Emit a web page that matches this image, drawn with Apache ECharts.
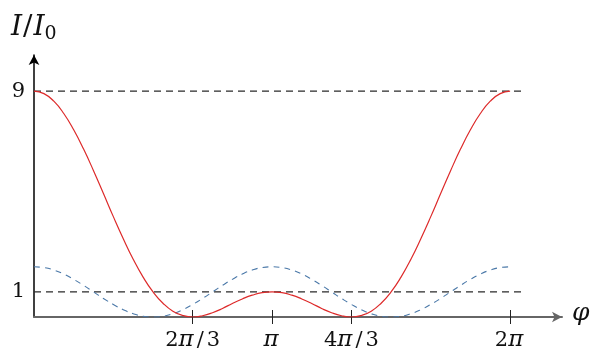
<!DOCTYPE html>
<html>
<head>
<meta charset="utf-8">
<script src="https://cdn.jsdelivr.net/npm/echarts@6/dist/echarts.min.js"></script>
<style>html,body{margin:0;padding:0;background:#fff;}#c{width:590px;height:356px;}</style>
</head>
<body>
<div id="c"></div>
<script>
// phase φ in units of π
const phi = [0, 0.0417, 0.0833, 0.125, 0.1667, 0.2083, 0.25, 0.2917, 0.3333, 0.375, 0.4167, 0.4583, 0.5,
  0.5417, 0.5833, 0.625, 0.6667, 0.7083, 0.75, 0.7917, 0.8333, 0.875, 0.9167, 0.9583, 1,
  1.0417, 1.0833, 1.125, 1.1667, 1.2083, 1.25, 1.2917, 1.3333, 1.375, 1.4167, 1.4583, 1.5,
  1.5417, 1.5833, 1.625, 1.6667, 1.7083, 1.75, 1.7917, 1.8333, 1.875, 1.9167, 1.9583, 2];
// three-slit intensity I/I0 (red)
const redI = [9, 8.90, 8.60, 8.11, 7.46, 6.69, 5.83, 4.92, 4.00, 3.12, 2.30, 1.59, 1.00,
  0.55, 0.23, 0.06, 0.00, 0.05, 0.17, 0.34, 0.54, 0.72, 0.87, 0.97, 1.00,
  0.97, 0.87, 0.72, 0.54, 0.34, 0.17, 0.05, 0.00, 0.06, 0.23, 0.55, 1.00,
  1.59, 2.30, 3.12, 4.00, 4.92, 5.83, 6.69, 7.46, 8.11, 8.60, 8.90, 9];
// comparison curve (blue dashed)
const blueI = [2.00, 1.97, 1.87, 1.71, 1.50, 1.26, 1.00, 0.74, 0.50, 0.29, 0.13, 0.03, 0.00,
  0.03, 0.13, 0.29, 0.50, 0.74, 1.00, 1.26, 1.50, 1.71, 1.87, 1.97, 2.00,
  1.97, 1.87, 1.71, 1.50, 1.26, 1.00, 0.74, 0.50, 0.29, 0.13, 0.03, 0.00,
  0.03, 0.13, 0.29, 0.50, 0.74, 1.00, 1.26, 1.50, 1.71, 1.87, 1.97, 2.00];
// reference levels
const refLevels = [9, 1];
const refStart = 0, refEnd = 2.046;
// ticks
const xTicks = [2/3, 1, 4/3, 2];
const xTickLabels = ['2π/3', 'π', '4π/3', '2π'];
const yTicks = [1, 9];

const chart = echarts.init(document.getElementById('c'), null, {renderer: 'canvas'});
const serif = 'DejaVu Serif';
const zip = (xs, ys) => xs.map((x, i) => [x, ys[i]]);

function fmtX(v) {
  let best = 0;
  for (let i = 1; i < xTicks.length; i++) if (Math.abs(xTicks[i] - v) < Math.abs(xTicks[best] - v)) best = i;
  const s = xTickLabels[best];
  return s.split('').map(ch => ch === 'π' ? '{p|π}' : (ch === '/' ? '{s|/}' : '{n|' + ch + '}')).join('');
}

const option = {
  animation: false,
  backgroundColor: '#fff',
  grid: {left: 34, right: 28, top: 55, bottom: 39},
  xAxis: [{
    type: 'value', min: 0, max: 2.218,
    splitLine: {show: false},
    axisLine: {show: true, onZero: false, lineStyle: {color: '#666', width: 2}, symbol: ['none', 'arrow'], symbolSize: [8, 10]},
    axisTick: {show: true, customValues: xTicks, length: 7, lineStyle: {color: '#222', width: 1}},
    axisLabel: {show: true, customValues: xTicks, margin: 12, formatter: fmtX,
      rich: {
        n: {fontFamily: serif, fontSize: 21, color: '#111'},
        p: {fontFamily: serif, fontStyle: 'italic', fontSize: 23, color: '#111', padding: [0, 2, 0, 0]},
        s: {fontFamily: serif, fontSize: 21, color: '#111', padding: [0, 3, 0, 1]}
      }}
  }, {
    type: 'value', min: 0, max: 2.218, position: 'bottom',
    splitLine: {show: false},
    axisLine: {show: false},
    axisTick: {show: true, inside: true, customValues: xTicks, length: 7, lineStyle: {color: '#222', width: 1}},
    axisLabel: {show: false}
  }],
  yAxis: {
    type: 'value', min: 0, max: 10.44,
    splitLine: {show: false},
    axisLine: {show: true, lineStyle: {color: '#000', width: 1.5}, symbol: ['none', 'arrow'], symbolSize: [8, 10]},
    axisTick: {show: false},
    axisLabel: {show: true, customValues: yTicks, margin: 9, fontFamily: serif, fontSize: 21, color: '#111'}
  },
  series: [
    ...refLevels.map(l => ({
      type: 'line', data: [[refStart, l], [refEnd, l]], symbol: 'none', silent: true,
      lineStyle: {color: '#2a2a2a', width: 1.2, type: [7, 5]}
    })),
    {type: 'line', data: zip(phi, blueI), symbol: 'none', smooth: true,
      lineStyle: {color: '#4a78a8', width: 1.1, type: [6, 5]}},
    {type: 'line', data: zip(phi, redI), symbol: 'none', smooth: true,
      lineStyle: {color: '#dd2a2a', width: 1.2}}
  ],
  graphic: [
    {type: 'text', left: 11, top: 14, style: {
      text: '{i|I}{s|/}{i|I}{b|0}',
      rich: {
        i: {fontFamily: serif, fontStyle: 'italic', fontSize: 28, fill: '#111'},
        s: {fontFamily: serif, fontSize: 28, fill: '#111', padding: [0, 1, 0, 1]},
        b: {fontFamily: serif, fontSize: 19, fill: '#111', padding: [12, 0, 0, 0]}
      }}},
    {type: 'text', left: 572, top: 301, style: {
      text: 'φ', fontFamily: serif, fontStyle: 'italic', fontSize: 25, fill: '#111'}}
  ]
};
chart.setOption(option);
</script>
</body>
</html>
